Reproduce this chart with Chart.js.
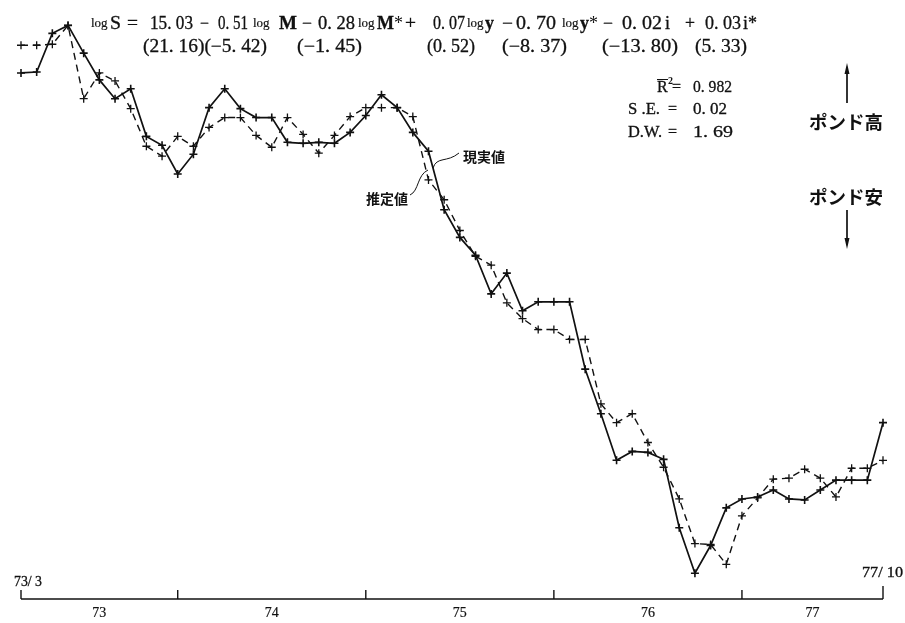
<!DOCTYPE html>
<html>
<head>
<meta charset="utf-8">
<script src="https://cdn.jsdelivr.net/npm/chart.js@4.4.1/dist/chart.umd.min.js"></script>
<style>
  html, body { margin: 0; padding: 0; background: #fff; }
  #wrap { width: 905px; height: 623px; }
</style>
</head>
<body>
<div id="wrap"><canvas id="c" width="905" height="623"></canvas></div>
<script>
// Monthly observations, 1973/3 .. 1977/10
const months = [];
for (let yr = 73; yr <= 77; yr++) {
  for (let m = 1; m <= 12; m++) {
    if ((yr === 73 && m < 3) || (yr === 77 && m > 10)) continue;
    months.push(yr + '/' + m);
  }
}

// Pound rate level (log scale, relative units): actual values
const actual = [532, 533, 572, 580, 552, 525, 506, 516, 468, 459, 430, 450,
                497, 516, 496, 487, 487, 462, 461, 462, 461, 472, 489, 510,
                497, 472, 453, 394, 366, 348, 309, 330, 292, 301, 301, 301,
                233, 188, 141, 150, 149, 142, 73, 27, 55, 93, 102, 104,
                111, 102, 101, 111, 121, 121, 121, 179];

// Fitted values from the regression equation
const estimated = [560, 560, 561, 580, 506, 532, 524, 496, 458, 448, 468, 458,
                   477, 487, 487, 469, 457, 487, 470, 451, 469, 488, 497, 497,
                   497, 488, 424, 404, 373, 347, 338, 300, 284, 273, 273, 263,
                   263, 198, 179, 188, 159, 134, 102, 57, 56, 36, 85, 103,
                   122, 123, 132, 123, 104, 133, 133, 141];

const yearLabels = ['73', '74', '75', '76', '77'];
const startLabel = '73/ 3';
const endLabel = '77/ 10';

const INK = '#111';
const SERIF = '"Liberation Serif", "DejaVu Serif", serif';
const JP = '"Noto Sans CJK JP", "Noto Sans", sans-serif';

// draw text fitted to a given width, with a faint stroke for weight
function fit(ctx, s, x, w, y, font) {
  ctx.font = font;
  const m = ctx.measureText(s).width;
  ctx.save();
  ctx.translate(x, y);
  ctx.scale(w / m, 1);
  ctx.fillText(s, 0, 0);
  ctx.lineWidth = 0.3;
  ctx.strokeText(s, 0, 0);
  ctx.restore();
}
function txt(ctx, s, x, y, font, sw) {
  ctx.font = font;
  ctx.fillText(s, x, y);
  if (sw) { ctx.lineWidth = sw; ctx.strokeText(s, x, y); }
}

const annotations = {
  id: 'annotations',
  afterDraw(chart) {
    const ctx = chart.ctx;
    const xs = chart.scales.x;
    ctx.save();
    ctx.fillStyle = INK;
    ctx.strokeStyle = INK;
    ctx.textBaseline = 'alphabetic';
    ctx.textAlign = 'left';

    // --- regression equation ---
    const big = '18px ' + SERIF;
    const bold = 'bold 18px ' + SERIF;
    const small = '13px ' + SERIF;
    const b1 = 29, bl = 27;
    txt(ctx, 'log', 91, bl, small, 0.2);
    fit(ctx, 'S', 110, 11, b1, big);
    fit(ctx, '=', 127, 11, b1, big);
    fit(ctx, '15. 03', 150, 43, b1, big);
    fit(ctx, '−', 200, 9, b1, big);
    fit(ctx, '0. 51', 218, 30, b1, big);
    txt(ctx, 'log', 253, bl, small, 0.2);
    fit(ctx, 'M', 279, 18, b1, bold);
    fit(ctx, '−', 302, 10, b1, big);
    fit(ctx, '0. 28', 318, 37, b1, big);
    txt(ctx, 'log', 358, bl, small, 0.2);
    fit(ctx, 'M', 377, 17, b1, bold);
    txt(ctx, '*', 394, b1, big);
    fit(ctx, '+', 405, 11, b1, big);
    fit(ctx, '0. 07', 433, 32, b1, big);
    txt(ctx, 'log', 467, bl, small, 0.2);
    fit(ctx, 'y', 485, 9, b1, bold);
    fit(ctx, '−', 502, 11, b1, big);
    fit(ctx, '0. 70', 516, 40, b1, big);
    txt(ctx, 'log', 562, bl, small, 0.2);
    fit(ctx, 'y', 580, 9, b1, bold);
    txt(ctx, '*', 589, b1, big);
    fit(ctx, '−', 603, 10, b1, big);
    fit(ctx, '0. 02', 622, 40, b1, big);
    txt(ctx, 'i', 665, b1, big, 0.3);
    fit(ctx, '+', 685, 10, b1, big);
    fit(ctx, '0. 03', 705, 36, b1, big);
    txt(ctx, 'i*', 743, b1, big, 0.3);

    // t-values
    const b2 = 52;
    fit(ctx, '(21. 16)(−5. 42)', 143, 124, b2, big);
    fit(ctx, '(−1. 45)', 297, 65, b2, big);
    fit(ctx, '(0. 52)', 427, 48, b2, big);
    fit(ctx, '(−8. 37)', 502, 65, b2, big);
    fit(ctx, '(−13. 80)', 602, 76, b2, big);
    fit(ctx, '(5. 33)', 695, 52, b2, big);

    // fit statistics
    const st = '16px ' + SERIF;
    txt(ctx, 'R', 657, 92, st, 0.3);
    ctx.lineWidth = 1;
    ctx.beginPath(); ctx.moveTo(657, 79.5); ctx.lineTo(668, 79.5); ctx.stroke();
    txt(ctx, '2', 668, 84, 'bold 10px ' + SERIF);
    txt(ctx, '=', 672, 92, st, 0.3);
    fit(ctx, '0. 982', 693, 39, 92, st);
    fit(ctx, 'S .E.', 628, 32, 114, st);
    txt(ctx, '=', 668, 114, st, 0.3);
    fit(ctx, '0. 02', 693, 34, 114, st);
    fit(ctx, 'D.W.', 628, 34, 137, st);
    txt(ctx, '=', 668, 137, st, 0.3);
    fit(ctx, '1. 69', 693, 40, 137, st);

    // direction arrows
    ctx.lineWidth = 1.7;
    ctx.beginPath(); ctx.moveTo(847, 103); ctx.lineTo(847, 68); ctx.stroke();
    ctx.beginPath(); ctx.moveTo(847, 63); ctx.lineTo(844.5, 74); ctx.lineTo(849.5, 74); ctx.closePath(); ctx.fill();
    ctx.beginPath(); ctx.moveTo(847, 210); ctx.lineTo(847, 244); ctx.stroke();
    ctx.beginPath(); ctx.moveTo(847, 249); ctx.lineTo(844.5, 238); ctx.lineTo(849.5, 238); ctx.closePath(); ctx.fill();
    ctx.textBaseline = 'middle';
    txt(ctx, 'ポンド高', 809, 122, 'bold 18.5px ' + JP);
    txt(ctx, 'ポンド安', 809, 197, 'bold 18.5px ' + JP);

    // series labels with leader curves
    txt(ctx, '現実値', 463, 157, 'bold 14px ' + JP);
    txt(ctx, '推定値', 366, 199, 'bold 14px ' + JP);
    ctx.lineWidth = 1;
    ctx.beginPath();
    ctx.moveTo(433, 168);
    ctx.bezierCurveTo(437, 156, 447, 163, 459, 153);
    ctx.stroke();
    ctx.beginPath();
    ctx.moveTo(410, 195);
    ctx.bezierCurveTo(419, 191, 417, 175, 428, 170);
    ctx.stroke();

    // time axis: year boundaries at each January
    const bounds = [0];
    months.forEach((m, i) => { if (m.endsWith('/1')) bounds.push(i); });
    bounds.push(months.length - 1);
    const ay = 599;
    ctx.lineWidth = 1.4;
    ctx.beginPath();
    ctx.moveTo(xs.getPixelForValue(bounds[0]), ay);
    ctx.lineTo(xs.getPixelForValue(bounds[bounds.length - 1]), ay);
    ctx.stroke();
    bounds.forEach((b, k) => {
      const px = xs.getPixelForValue(b);
      const h = (k === bounds.length - 1) ? 13 : 9;
      ctx.beginPath(); ctx.moveTo(px, ay); ctx.lineTo(px, ay - h); ctx.stroke();
    });
    ctx.textBaseline = 'alphabetic';
    ctx.textAlign = 'center';
    yearLabels.forEach((lab, k) => {
      const mid = (bounds[k] + bounds[k + 1]) / 2;
      txt(ctx, lab, xs.getPixelForValue(mid), 617, '14px ' + SERIF, 0.2);
    });
    ctx.textAlign = 'left';
    fit(ctx, startLabel, 14, 28, 586, '14px ' + SERIF);
    fit(ctx, endLabel, 862, 41, 577, '14px ' + SERIF);
    ctx.restore();
  }
};

new Chart(document.getElementById('c'), {
  type: 'line',
  data: {
    labels: months,
    datasets: [
      {
        label: '現実値',
        data: actual,
        borderColor: INK,
        borderWidth: 1.7,
        pointStyle: 'cross',
        pointRadius: 4,
        pointBorderWidth: 1.6,
        pointBorderColor: INK,
        tension: 0,
        clip: false
      },
      {
        label: '推定値',
        data: estimated,
        borderColor: INK,
        borderWidth: 1.4,
        borderDash: [7, 5],
        pointStyle: 'cross',
        pointRadius: 4,
        pointBorderWidth: 1.3,
        pointBorderColor: INK,
        tension: 0,
        clip: false
      }
    ]
  },
  options: {
    responsive: false,
    animation: false,
    devicePixelRatio: 1,
    layout: { padding: { left: 21, right: 22, top: 0, bottom: 23 } },
    scales: {
      x: { display: false },
      y: { display: false, min: 0, max: 600 }
    },
    plugins: {
      legend: { display: false },
      tooltip: { enabled: false }
    }
  },
  plugins: [annotations]
});
</script>
</body>
</html>
